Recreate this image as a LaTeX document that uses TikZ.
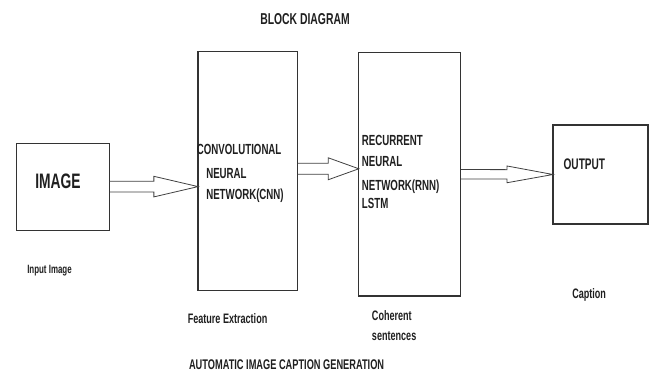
\documentclass[tikz,border=0pt]{standalone}
\usepackage{fontspec}
\setmainfont{Liberation Sans}[FakeStretch=0.66]
\usepackage{tikz}
\usetikzlibrary{positioning,calc}

\newcommand{\hollowarrow}[4]{%
  \draw[harr] ($(#1)+(0,#3)$) -- ($(#1)!0.5!(#2)+(0,#3)$) -- ($(#1)!0.5!(#2)+(0,#4)$) -- (#2)
    -- ($(#1)!0.5!(#2)+(0,-#4)$) -- ($(#1)!0.5!(#2)+(0,-#3)$) -- ($(#1)+(0,-#3)$);}

\begin{document}
\begin{tikzpicture}[x=0.75pt,y=-0.75pt,
  blk/.style={draw=black!80,line width=0.9pt,inner sep=0pt,outer sep=0pt},
  harr/.style={draw=black!75,line width=0.6pt,line join=miter},
  lbl/.style={anchor=base west,inner sep=0pt,text=black!88,font=\bfseries\fontsize{11}{13}\selectfont}]
\useasboundingbox (0,0) rectangle (653,372);
\node[blk,minimum width=93*0.75pt,minimum height=87*0.75pt] (img) at (63.2,186.6) {};
\node[blk,minimum width=99.5*0.75pt,minimum height=239*0.75pt] (cnn) at (247.8,171.3) {};
\node[blk,minimum width=102*0.75pt,minimum height=243.7*0.75pt] (rnn) at (409.8,174.2) {};
\node[blk,minimum width=95*0.75pt,minimum height=99*0.75pt] (out) at (600.5,174.5) {};
\node[lbl,font=\bfseries\fontsize{15.7}{18}\selectfont] (imgtxt) at (35,188.3) {IMAGE};
\node[lbl] (cnnA) at (196.7,154) {CONVOLUTIONAL};
\node[lbl] (cnnB) at (206,178.3) {NEURAL};
\node[lbl] (cnnC) at (206,199.5) {NETWORK(CNN)};
\node[lbl] (rnnA) at (361.7,145) {RECURRENT};
\node[lbl] (rnnB) at (361.7,166) {NEURAL};
\node[lbl] (rnnC) at (361.7,190.5) {NETWORK(RNN)};
\node[lbl] (rnnD) at (361.7,208) {LSTM};
\node[lbl,font=\bfseries\fontsize{11.5}{13}\selectfont] (outtxt) at (563.3,169.3) {OUTPUT};
\node[lbl,font=\bfseries\fontsize{11.8}{14}\selectfont] (title) at (260,24) {BLOCK DIAGRAM};
\node[lbl,font=\bfseries\fontsize{9}{11}\selectfont] (inlbl) at (27,273.3) {Input Image};
\node[lbl,font=\bfseries\fontsize{10.3}{12}\selectfont] (felbl) at (187.5,323.3) {Feature Extraction};
\node[lbl,font=\bfseries\fontsize{10.3}{12}\selectfont] (colbl) at (371.7,320) {Coherent};
\node[lbl,font=\bfseries\fontsize{10.3}{12}\selectfont] (selbl) at (371.7,340) {sentences};
\node[lbl,font=\bfseries\fontsize{10.3}{12}\selectfont] (caplbl) at (572,298) {Caption};
\node[lbl,font=\bfseries\fontsize{10.5}{12}\selectfont] (foot) at (188.8,369.3) {AUTOMATIC IMAGE CAPTION GENERATION};
\coordinate (a1e) at (cnn.west |- img.east);
\coordinate (a2s) at ([yshift=1.9pt]cnn.east);
\coordinate (a2e) at (rnn.west |- a2s);
\hollowarrow{img.east}{a1e}{5.3}{10.3}
\hollowarrow{a2s}{a2e}{5.5}{11}
\hollowarrow{rnn.east}{out.west}{4.7}{8.4}
\end{tikzpicture}
\end{document}
